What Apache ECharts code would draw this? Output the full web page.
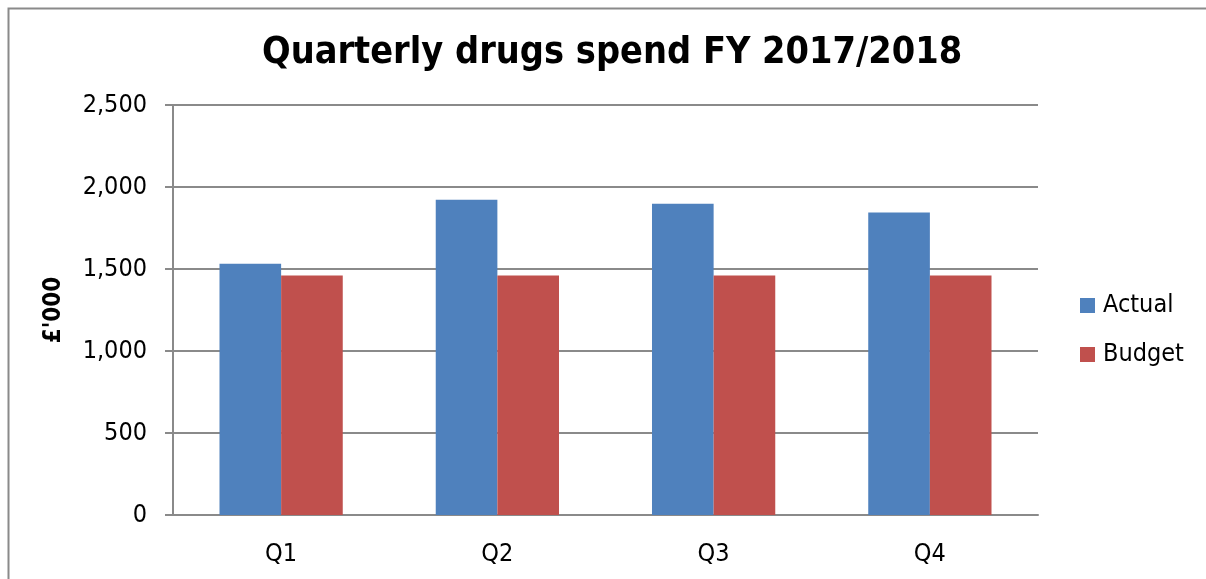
<!DOCTYPE html>
<html>
<head>
<meta charset="utf-8">
<script src="https://cdn.jsdelivr.net/npm/echarts@6/dist/echarts.min.js"></script>
<style>html,body{margin:0;padding:0;background:#fff;}#c{width:1206px;height:579px;}</style>
</head>
<body>
<div id="c"></div>
<script>
const categories = ['Q1', 'Q2', 'Q3', 'Q4'];
const actual = [1532, 1923, 1898, 1845];
const budget = [1461, 1461, 1461, 1461];
const yTicks = [0, 500, 1000, 1500, 2000, 2500];

const FONT = '"DejaVu Sans Condensed", "DejaVu Sans", sans-serif';
const chart = echarts.init(document.getElementById('c'), null, {renderer: 'canvas'});
chart.setOption({
  backgroundColor: '#fff',
  animation: false,
  graphic: [{
    type: 'rect', left: 6, top: 6,
    shape: {width: 1260, height: 640},
    style: {fill: 'none', stroke: '#8a8a8a', lineWidth: 2}
  }],
  title: {
    text: 'Quarterly drugs spend FY 2017/2018',
    left: 257, top: 29,
    textStyle: {fontFamily: FONT, fontWeight: 'bold', fontSize: 37.5, color: '#000'}
  },
  legend: {
    orient: 'vertical', left: 1080, top: 293, padding: 0,
    itemWidth: 15, itemHeight: 15, itemGap: 24,
    icon: 'rect',
    textStyle: {fontFamily: FONT, fontSize: 25, color: '#000', padding: [0, 0, 0, 3]},
    data: ['Actual', 'Budget']
  },
  grid: {left: 173, right: 168, top: 105, bottom: 64, containLabel: false},
  xAxis: {
    type: 'category', data: categories,
    axisLine: {lineStyle: {color: '#8a8a8a', width: 2}},
    axisTick: {show: false},
    axisLabel: {fontFamily: FONT, fontSize: 25, color: '#000', margin: 27}
  },
  yAxis: {
    type: 'value', min: 0, max: 2500, interval: 500,
    name: "£'000", nameLocation: 'middle', nameGap: 107, nameRotate: 90,
    nameTextStyle: {fontFamily: FONT, fontWeight: 'bold', fontSize: 24, color: '#000'},
    axisLine: {show: true, lineStyle: {color: '#8a8a8a', width: 2}},
    axisTick: {show: true, length: 8, lineStyle: {color: '#8a8a8a', width: 2}},
    splitLine: {lineStyle: {color: '#8a8a8a', width: 2}},
    axisLabel: {
      fontFamily: FONT, fontSize: 25, color: '#000', margin: 26,
      formatter: v => yTicks.includes(v) ? v.toLocaleString('en-GB') : ''
    }
  },
  series: [
    {name: 'Actual', type: 'bar', data: actual, barGap: '0%', barCategoryGap: '43%',
     itemStyle: {color: '#4F81BD'}},
    {name: 'Budget', type: 'bar', data: budget, barGap: '0%', barCategoryGap: '43%',
     itemStyle: {color: '#C0504D'}}
  ]
});
</script>
</body>
</html>
